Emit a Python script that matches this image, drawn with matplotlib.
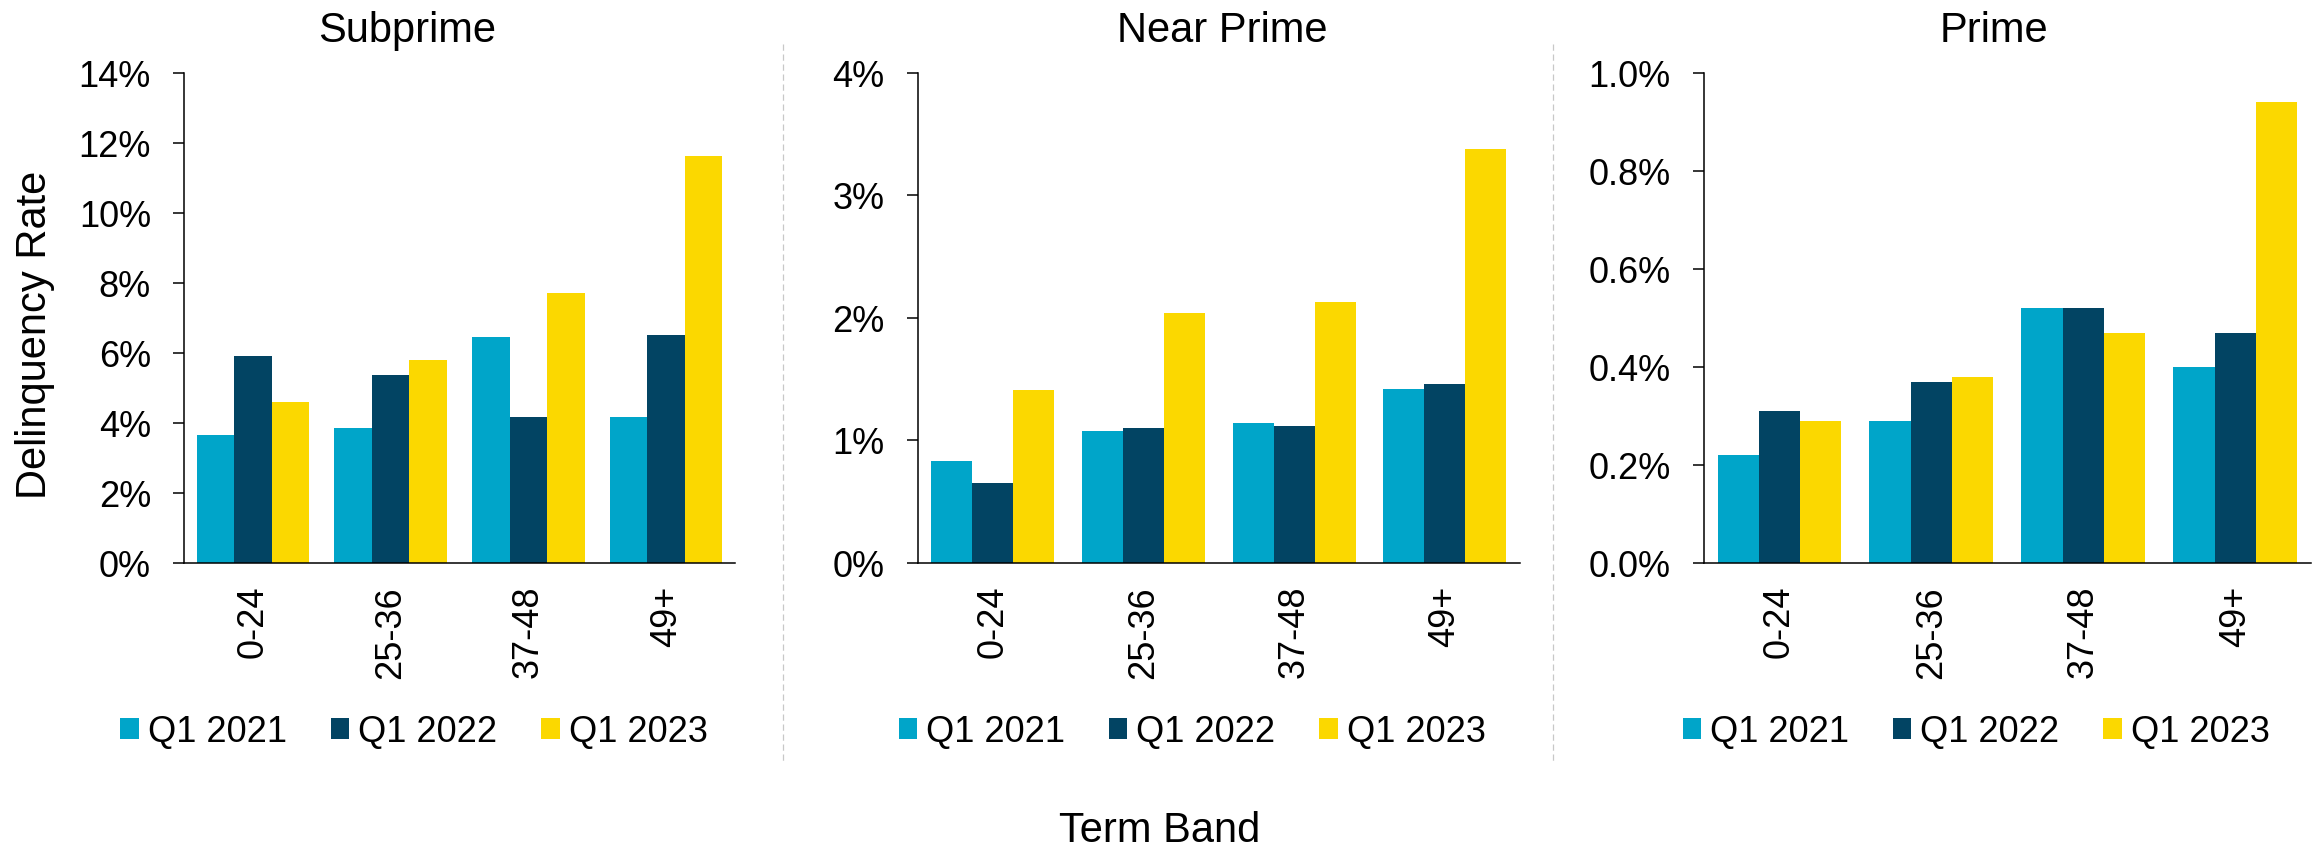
import matplotlib
matplotlib.use("Agg")
import matplotlib.pyplot as plt
from matplotlib.patches import Patch
from matplotlib.lines import Line2D
from matplotlib.ticker import FuncFormatter, MultipleLocator

plt.rcParams["font.family"] = ["Liberation Sans", "DejaVu Sans"]

# ---- data (delinquency rate, %) ----
term_bands = ["0-24", "25-36", "37-48", "49+"]
series_names = ["Q1 2021", "Q1 2022", "Q1 2023"]
series_colors = ["#00A5C9", "#024463", "#FBD800"]

subprime_2021 = [3.66, 3.86, 6.45, 4.18]
subprime_2022 = [5.90, 5.37, 4.18, 6.51]
subprime_2023 = [4.61, 5.81, 7.71, 11.63]

near_prime_2021 = [0.83, 1.08, 1.14, 1.42]
near_prime_2022 = [0.65, 1.10, 1.12, 1.46]
near_prime_2023 = [1.41, 2.04, 2.13, 3.38]

prime_2021 = [0.22, 0.29, 0.52, 0.40]
prime_2022 = [0.31, 0.37, 0.52, 0.47]
prime_2023 = [0.29, 0.38, 0.47, 0.94]

panel_titles = ["Subprime", "Near Prime", "Prime"]
panel_series = [
    [subprime_2021, subprime_2022, subprime_2023],
    [near_prime_2021, near_prime_2022, near_prime_2023],
    [prime_2021, prime_2022, prime_2023],
]
y_max = [14, 4, 1.0]
y_step = [2, 1, 0.2]
y_decimals = [0, 0, 1]

# ---- layout (pixels of a 2313 x 849 canvas) ----
W, H = 2313, 849
fig = plt.figure(figsize=(W / 100 + 1e-3, H / 100 + 1e-3), dpi=100)

axes_x = [(184, 735), (917.5, 1520), (1703.5, 2311)]
axes_top, axes_bottom = 73, 563
title_x = [407, 1222, 1994]
legend_x = [414, 1192, 1976]

TICK_FS = 26
LABEL_FS = 30
bar_w = 0.272
spine_lw = 1.1

for i in range(3):
    x0, x1 = axes_x[i]
    ax = fig.add_axes([x0 / W, 1 - axes_bottom / H, (x1 - x0) / W, (axes_bottom - axes_top) / H])
    xs = range(len(term_bands))
    for k, (vals, name, col) in enumerate(zip(panel_series[i], series_names, series_colors)):
        pos = [x + (k - 1) * bar_w for x in xs]
        ax.bar(pos, vals, width=bar_w, color=col, label=name, linewidth=0)
    ax.set_xlim(-0.5, len(term_bands) - 0.5)
    ax.set_ylim(0, y_max[i])
    ax.yaxis.set_major_locator(MultipleLocator(y_step[i]))
    d = y_decimals[i]
    ax.yaxis.set_major_formatter(FuncFormatter(lambda v, p, d=d: f"{v:.{d}f}%"))
    ax.set_xticks(list(xs))
    ax.set_xticklabels(term_bands, rotation=90, fontsize=TICK_FS)
    ax.tick_params(axis="x", length=0, pad=16.5)
    ax.tick_params(axis="y", length=8, width=spine_lw, pad=15.8, labelsize=TICK_FS, direction="out")
    for s in ["top", "right"]:
        ax.spines[s].set_visible(False)
    for s in ["left", "bottom"]:
        ax.spines[s].set_linewidth(spine_lw)
        ax.spines[s].set_color("black")

    fig.text(title_x[i] / W, 1 - 42 / H, panel_titles[i], ha="center", va="baseline", fontsize=LABEL_FS)

    handles = [Patch(facecolor=c, edgecolor="none") for c in series_colors]
    fig.legend(handles, series_names, loc="center",
               bbox_to_anchor=(legend_x[i] / W, 1 - 732 / H),
               ncol=3, frameon=False, fontsize=TICK_FS,
               handlelength=0.52, handleheight=0.52, handletextpad=0.25,
               columnspacing=1.2, borderpad=0, borderaxespad=0)

# dashed separators between panels
for sx in [782.5, 1552.5]:
    fig.add_artist(Line2D([sx / W, sx / W], [1 - 44 / H, 1 - 763 / H],
                          transform=fig.transFigure, color="#c8c8c8",
                          linewidth=0.9, linestyle=(0, (5, 3))))

fig.text(35 / W, 1 - 334.5 / H, "Delinquency Rate", rotation=90,
         ha="center", va="center", fontsize=LABEL_FS)
fig.text(1160 / W, 1 - 842 / H, "Term Band", ha="center", va="baseline", fontsize=LABEL_FS)

fig.savefig("out.png", dpi=100, facecolor="white")
